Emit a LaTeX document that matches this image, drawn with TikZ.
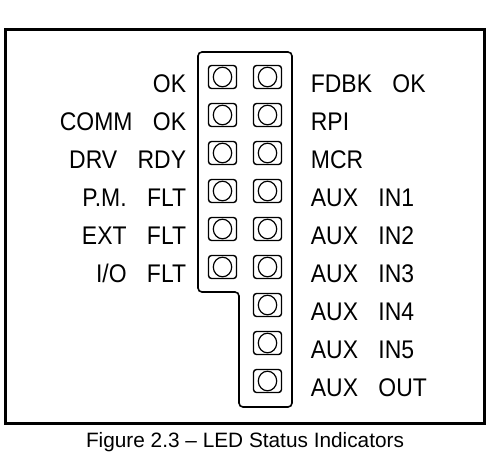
\documentclass[tikz,border=0pt]{standalone}
\usepackage{fontspec}
\setmainfont{Liberation Sans}
\newfontfamily\cadfont[FakeStretch=0.9]{Liberation Sans}
\usetikzlibrary{positioning}
\newcommand{\wgap}{\hspace{0.8em}}

\begin{document}
\begin{tikzpicture}[x=1pt, y=-1pt, node distance=38pt, font=\cadfont\fontsize{25.5}{30}\selectfont]
      \tikzstyle{led}=[draw, line width=1.4pt, rounded corners=3pt, minimum width=28pt, minimum height=23pt, inner sep=0pt,
        path picture={\draw[line width=1.2pt] (path picture bounding box.center) ellipse (9.2pt and 9.8pt);}]
      \tikzstyle{lbl}=[inner sep=0pt, text height=18.5pt, text depth=0pt, yshift=-6pt]
      \useasboundingbox (0,0) rectangle (500,464);
      \draw[line width=3pt] (5,29) rectangle (484,423);
      \draw[line width=1.6pt, rounded corners=4pt] (198,52) -- (292,52) -- (292,407) -- (239,407) -- (239,292) -- (198,292) -- cycle;
      % left column
      \node[led] (a1) at (222.5,77) {};
      \node[led] (a2) [below of=a1] {};
      \node[led] (a3) [below of=a2] {};
      \node[led] (a4) [below of=a3] {};
      \node[led] (a5) [below of=a4] {};
      \node[led] (a6) [below of=a5] {};
      % right column
      \node[led] (b1) at (267.5,77) {};
      \node[led] (b2) [below of=b1] {};
      \node[led] (b3) [below of=b2] {};
      \node[led] (b4) [below of=b3] {};
      \node[led] (b5) [below of=b4] {};
      \node[led] (b6) [below of=b5] {};
      \node[led] (b7) [below of=b6] {};
      \node[led] (b8) [below of=b7] {};
      \node[led] (b9) [below of=b8] {};
      % labels
      \node[lbl] (la1) [left=21.5pt of a1] {OK};
      \node[lbl] (la2) [left=21.5pt of a2] {COMM\wgap OK};
      \node[lbl] (la3) [left=21.5pt of a3] {DRV\wgap RDY};
      \node[lbl] (la4) [left=21.5pt of a4] {P.M.\wgap FLT};
      \node[lbl] (la5) [left=21.5pt of a5] {EXT\wgap FLT};
      \node[lbl] (la6) [left=21.5pt of a6] {I/O\wgap FLT};
      \node[lbl] (lb1) [right=28.5pt of b1] {FDBK\wgap OK};
      \node[lbl] (lb2) [right=28.5pt of b2] {RPI};
      \node[lbl] (lb3) [right=28.5pt of b3] {MCR};
      \node[lbl] (lb4) [right=28.5pt of b4] {AUX\wgap IN1};
      \node[lbl] (lb5) [right=28.5pt of b5] {AUX\wgap IN2};
      \node[lbl] (lb6) [right=28.5pt of b6] {AUX\wgap IN3};
      \node[lbl] (lb7) [right=28.5pt of b7] {AUX\wgap IN4};
      \node[lbl] (lb8) [right=28.5pt of b8] {AUX\wgap IN5};
      \node[lbl] (lb9) [right=28.5pt of b9] {AUX\wgap OUT};
      \node[anchor=base, font=\fontsize{20.8}{24}\selectfont] (cap) at (245,447) {Figure 2.3 -- LED Status Indicators};
    \end{tikzpicture}
\end{document}
